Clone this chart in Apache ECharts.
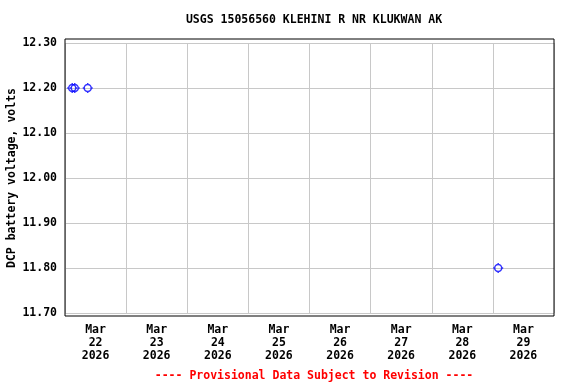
<!DOCTYPE html>
<html>
<head>
<meta charset="utf-8">
<script src="https://cdn.jsdelivr.net/npm/echarts@6/dist/echarts.min.js"></script>
<style>html,body{margin:0;padding:0;background:#fff}#c{width:576px;height:384px}</style>
</head>
<body>
<div id="c"></div>
<script>
// ---- data ----
var titleText = 'USGS 15056560 KLEHINI R NR KLUKWAN AK';
var yAxisTitle = 'DCP battery voltage, volts';
var footText = '---- Provisional Data Subject to Revision ----';
var obsTimes = ['2026-03-22T02:50', '2026-03-22T03:50', '2026-03-22T08:55', '2026-03-29T02:05'];
var obsValues = [12.20, 12.20, 12.20, 11.80];
var dayLabels = ['Mar\n22\n2026', 'Mar\n23\n2026', 'Mar\n24\n2026', 'Mar\n25\n2026',
                 'Mar\n26\n2026', 'Mar\n27\n2026', 'Mar\n28\n2026', 'Mar\n29\n2026'];
var xStart = '2026-03-22T00:00';
var xEnd = '2026-03-30T00:00';
var yMin = 11.70, yMax = 12.30, yStep = 0.10;

function t(s) { return new Date(s + ':00Z').getTime(); }
var DAY = 86400000;
var FONT = '"DejaVu Sans Mono", monospace';

var chart = echarts.init(document.getElementById('c'), null, {renderer: 'canvas'});
chart.setOption({
  animation: false,
  backgroundColor: '#fff',
  title: [
    {text: titleText, left: 309, top: 9, textAlign: 'center',
     textStyle: {fontFamily: FONT, fontWeight: 'bold', fontSize: 11.5, color: '#000'}},
    {text: footText, left: 309, top: 365, textAlign: 'center',
     textStyle: {fontFamily: FONT, fontWeight: 'bold', fontSize: 11.5, color: '#f00'}}
  ],
  grid: [
    {left: 65, right: 22, top: 39, bottom: 68, show: true, borderColor: '#000', borderWidth: 1,
     backgroundColor: 'transparent', z: 5, containLabel: false, outerBoundsMode: 'none'},
    {left: 65, right: 22, top: 43, bottom: 71, show: false, containLabel: false, outerBoundsMode: 'none'}
  ],
  xAxis: [
    {gridIndex: 0, type: 'value', show: false, min: 0, max: 1},
    {gridIndex: 1, type: 'value', min: t(xStart), max: t(xEnd), interval: DAY,
     axisLine: {show: false}, axisTick: {show: false}, axisLabel: {show: false},
     splitLine: {show: true, lineStyle: {color: '#c8c8c8', width: 1}}},
    {gridIndex: 1, type: 'category', data: dayLabels, boundaryGap: true, position: 'bottom',
     axisLine: {show: false}, axisTick: {show: false}, splitLine: {show: false},
     axisLabel: {fontFamily: FONT, fontWeight: 'bold', fontSize: 11.5, color: '#000', lineHeight: 13, margin: 11, interval: 0}}
  ],
  yAxis: [
    {gridIndex: 0, type: 'value', show: false, min: 0, max: 1},
    {gridIndex: 1, type: 'value', min: yMin, max: yMax, interval: yStep,
     name: yAxisTitle, nameLocation: 'middle', nameRotate: 90, nameGap: 47, nameMoveOverlap: false,
     nameTextStyle: {fontFamily: FONT, fontWeight: 'bold', fontSize: 11.5, color: '#000'},
     axisLine: {show: false}, axisTick: {show: false},
     axisLabel: {fontFamily: FONT, fontWeight: 'bold', fontSize: 11.5, color: '#000', margin: 8,
                 formatter: function (v) { return v.toFixed(2); }},
     splitLine: {show: true, lineStyle: {color: '#c8c8c8', width: 1}}}
  ],
  series: [{
    type: 'scatter',
    xAxisIndex: 1, yAxisIndex: 1,
    data: obsTimes.map(function (s, i) { return [t(s), obsValues[i]]; }),
    symbol: 'path://M5,0L5,2M5,8L5,10M0,5L2,5M8,5L10,5M1.5,5A3.5,3.5 0 1,1 8.5,5A3.5,3.5 0 1,1 1.5,5',
    symbolSize: 10,
    itemStyle: {color: 'none', borderColor: '#0000ff', borderWidth: 1.5},
    z: 10
  }]
});
</script>
</body>
</html>
